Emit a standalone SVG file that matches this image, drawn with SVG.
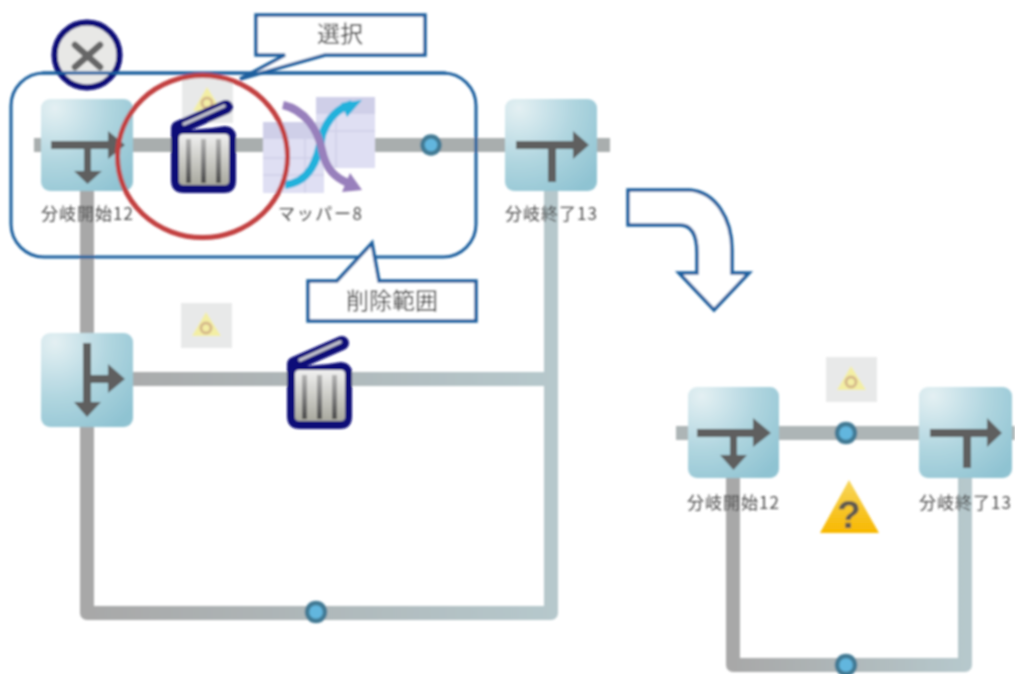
<svg xmlns="http://www.w3.org/2000/svg" xmlns:xlink="http://www.w3.org/1999/xlink" width="1015" height="674" viewBox="0 0 1015 674">
<style>
.lbl{font-family:"Noto Sans CJK JP","Noto Sans",sans-serif;font-size:17px;fill:#4c4c4c;text-anchor:middle}
.cap{font-family:"Noto Sans CJK JP","Noto Sans",sans-serif;font-size:23px;fill:#3c3c3c;text-anchor:middle}
.box{fill:url(#nodeGrad)}
.sym{fill:#5e5e5e;stroke:none}
.wire{fill:none;stroke-width:14;stroke-linejoin:round}
.blue{fill:#fff;stroke:#1c5f9e;stroke-width:3.500;stroke-linejoin:miter}
.dot{fill:#62b6de;stroke:#437a94;stroke-width:4.500}
</style>
<defs>
<filter id="soft" x="-2%" y="-2%" width="104%" height="104%"><feGaussianBlur stdDeviation="0.8"/></filter>
<radialGradient id="nodeGrad" cx="0.15" cy="0.1" r="1.1"><stop offset="0" stop-color="#e4f0f3"/><stop offset="0.55" stop-color="#afd5df"/><stop offset="1" stop-color="#8fc3d2"/></radialGradient>
<linearGradient id="wireL" gradientUnits="userSpaceOnUse" x1="87" y1="0" x2="551" y2="0"><stop offset="0" stop-color="#a8a8a8"/><stop offset="1" stop-color="#b6c8cc"/></linearGradient>
<linearGradient id="wireR" gradientUnits="userSpaceOnUse" x1="733" y1="0" x2="965" y2="0"><stop offset="0" stop-color="#a8a8a8"/><stop offset="1" stop-color="#b6c8cc"/></linearGradient>
<linearGradient id="binBody" x1="0" y1="0" x2="0" y2="1"><stop offset="0" stop-color="#f0f0f0"/><stop offset="1" stop-color="#a8a89e"/></linearGradient>
<linearGradient id="bar" x1="0" y1="0" x2="0" y2="1"><stop offset="0" stop-color="#b4b4b4"/><stop offset="1" stop-color="#4c4c4c"/></linearGradient>
<linearGradient id="warn" x1="0" y1="0" x2="0" y2="1"><stop offset="0" stop-color="#f7d65c"/><stop offset="1" stop-color="#f8b800"/></linearGradient>
<g id="bin">
<path d="M178 128 L226 107" fill="none" stroke="#0c0c78" stroke-width="14" stroke-linecap="round"/>
<path d="M184 124 L224 106" fill="none" stroke="#c4c4cc" stroke-width="3.500" stroke-linecap="round"/>
<path d="M171 132 Q171 122 178 122 L190 130 L212 128 L225 126 Q236 127 236 137 L236 180 Q236 193 224 193 L184 193 Q171 193 171 180Z" fill="#0c0c78"/>
<rect x="179" y="134" width="50" height="51" rx="4" fill="url(#binBody)"/>
<rect x="186" y="139" width="5" height="44" fill="url(#bar)"/>
<rect x="201" y="139" width="5" height="44" fill="url(#bar)"/>
<rect x="216" y="139" width="5" height="44" fill="url(#bar)"/>
</g>
<g id="pale">
<rect width="51" height="45" fill="#e8e9e9"/>
<path d="M25 9 L40 33 L11 33Z" fill="#f3eea4"/>
<circle cx="25" cy="25" r="5" fill="none" stroke="#d6b98a" stroke-width="3"/>
</g>
</defs>
<rect width="1015" height="674" fill="#fff"/>
<g filter="url(#soft)">
<g id="connectors">
<path class="wire" d="M34 145H610" stroke="#a9aeae"/>
<path class="wire" d="M133 379H551" stroke="url(#wireL)"/>
<path class="wire" d="M87 191V613H551V191" stroke="url(#wireL)"/>
<path class="wire" d="M676 433H1015" stroke="#adb5b6"/>
<path class="wire" d="M733 478V665H965V478" stroke="url(#wireR)"/>
<circle class="dot" cx="431" cy="145" r="8.500"/>
<circle class="dot" cx="316" cy="612" r="9"/>
<circle class="dot" cx="846" cy="433" r="9"/>
<circle class="dot" cx="846" cy="665" r="9"/>
</g>
<g id="pale-icons">
<use xlink:href="#pale" x="182" y="78"/>
<use xlink:href="#pale" x="181" y="303"/>
<use xlink:href="#pale" x="826" y="357"/>
</g>
<g id="node-start-left">
<rect class="box" x="41" y="99" width="92" height="92" rx="9"/>
<path class="sym" d="M51 141H108V131L125 145L108 159V149H91V171H102L87.500 184L74 171H84V149H51Z"/>
<text class="lbl" x="87" y="220" textLength="92">分岐開始12</text>
</g>
<g id="node-mapper">
<rect x="263" y="122" width="61" height="71" fill="#dfdff3"/>
<rect x="316" y="97" width="59" height="71" fill="#dfdff3"/>
<rect x="263" y="122" width="61" height="17" fill="#cfcfe8"/>
<rect x="316" y="97" width="59" height="17" fill="#cfcfe8"/>
<path d="M263 158H324M263 175H324M305 139V193M316 131H375M336 114V168" stroke="#cfcfe8" stroke-width="1.500" fill="none"/>
<path d="M285 185C310 182 318 160 322 135C328 118 338 108 352 104" fill="none" stroke="#22b2dc" stroke-width="8"/>
<path d="M362 100L347 117L341 103Z" fill="#22b2dc"/>
<path d="M283 105C305 110 318 130 322 150C326 170 336 178 348 183" fill="none" stroke="#9880bc" stroke-width="8"/>
<path d="M362 190L342 192L350 173Z" fill="#9880bc"/>
<text class="lbl" x="320" y="220" textLength="84">マッパー8</text>
</g>
<g id="node-end-left">
<rect class="box" x="505" y="99" width="92" height="92" rx="9"/>
<path class="sym" d="M516 141H573V131L589 145L573 159V149H556V182H548V149H516Z"/>
<text class="lbl" x="551" y="220" textLength="92">分岐終了13</text>
</g>
<g id="node-branch-lower">
<rect class="box" x="41" y="333" width="92" height="94" rx="9"/>
<path class="sym" d="M83 343H91V375H108V364L125 379L108 393V383H91V402H101L87 417L74 402H83Z"/>
</g>
<g id="trash-upper"><use xlink:href="#bin"/></g>
<g id="trash-lower"><use xlink:href="#bin" x="116" y="236"/></g>
<g id="node-start-right">
<rect class="box" x="688" y="387" width="91" height="91" rx="9"/>
<path class="sym" d="M697 429H753V418L771 433L753 447V437H737V455H747L733.500 470L720 455H730V437H697Z"/>
<text class="lbl" x="733" y="509" textLength="92">分岐開始12</text>
</g>
<g id="node-end-right">
<rect class="box" x="919" y="387" width="93" height="91" rx="9"/>
<path class="sym" d="M930 429H987V418L1002 433L987 447V437H971V468H963V437H930Z"/>
<text class="lbl" x="965" y="509" textLength="92">分岐終了13</text>
</g>
<g id="warning">
<path d="M849 480L879 533H820Z" fill="url(#warn)"/>
<text x="849" y="528" font-family="Liberation Sans,sans-serif" font-size="39" font-weight="700" fill="#5e5a50" text-anchor="middle">?</text>
</g>
<g id="delete-range">
<rect x="11" y="73" width="465" height="184" rx="33" fill="none" stroke="#1c5f9e" stroke-width="3"/>
</g>
<g id="close-button">
<circle cx="87" cy="55" r="32.500" fill="#e6e5e3" fill-opacity="0.9" stroke="#0c0c78" stroke-width="6"/>
<path d="M75 45L100 67M100 45L75 67" stroke="#666" stroke-width="6.500" stroke-linecap="round"/>
</g>
<path id="delete-line" d="M42 73H446" stroke="#1c5f9e" stroke-width="3" fill="none"/>
<g id="selection-circle">
<ellipse cx="202.500" cy="156.500" rx="85" ry="81" fill="none" stroke="#c23f40" stroke-width="5"/>
</g>
<g id="callout-select">
<path class="blue" d="M256 15H425V55H325L240 79L285 55H256Z"/>
<text class="cap" x="340" y="42">選択</text>
</g>
<g id="callout-range">
<path class="blue" d="M308 281H337L372 243L379 281H476V321H308Z"/>
<text class="cap" x="392" y="309" textLength="92">削除範囲</text>
</g>
<g id="big-arrow">
<path class="blue" d="M628 190H690C715 192 732 218 732 250V273H749L714 310L679 273H697V253C697 236 692 225 680 225H628Z"/>
</g>
</g>
</svg>
